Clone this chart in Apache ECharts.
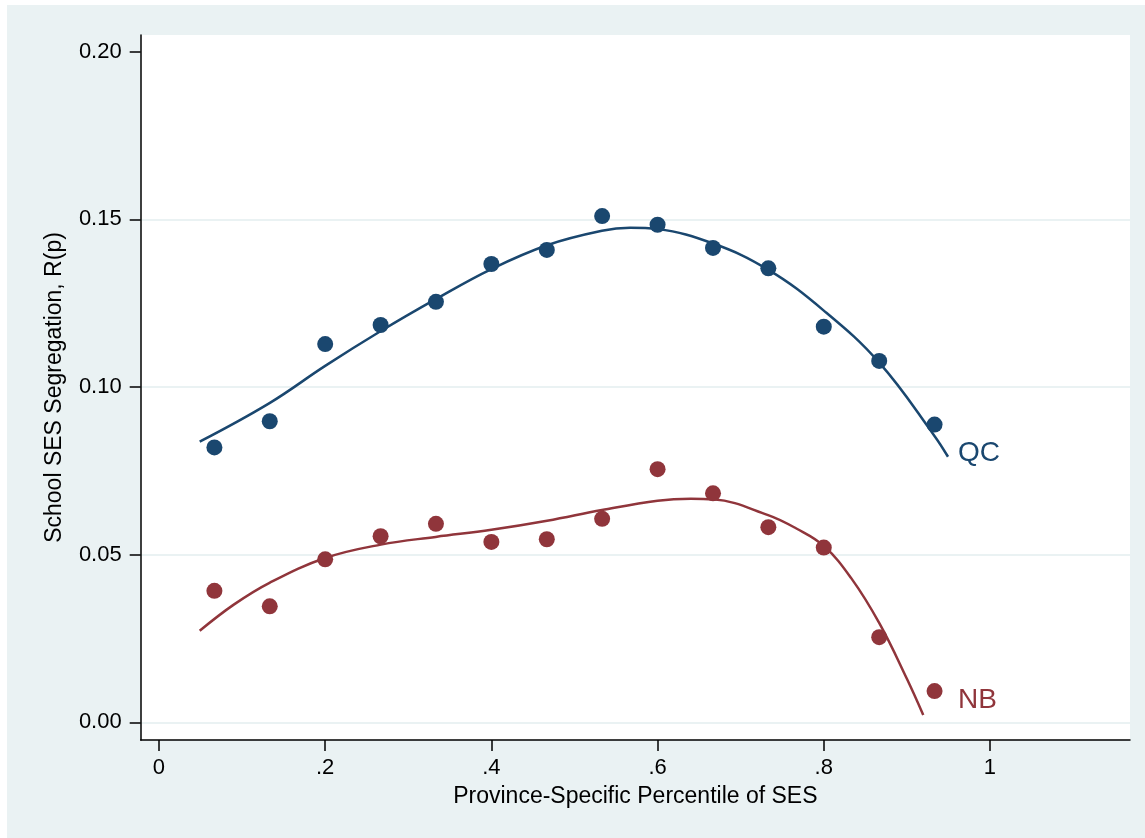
<!DOCTYPE html>
<html>
<head>
<meta charset="utf-8">
<script src="https://cdn.jsdelivr.net/npm/echarts@6/dist/echarts.min.js"></script>
<style>
html,body{margin:0;padding:0;background:#ffffff;width:1145px;height:838px;overflow:hidden;}
#chart{position:absolute;left:7px;top:5px;width:1138px;height:833px;background:#eaf2f3;}
</style>
</head>
<body>
<div id="chart"></div>
<script>
// ---- data ----
const pctX = [0.0667,0.1333,0.2,0.2667,0.3333,0.4,0.4667,0.5333,0.6,0.6667,0.7333,0.8,0.8667,0.9333];
const qcPoints = [0.0820,0.0898,0.1128,0.1185,0.1254,0.1367,0.1409,0.1510,0.1484,0.1415,0.1354,0.1180,0.1078,0.0888];
const nbPoints = [0.0392,0.0346,0.0486,0.0555,0.0592,0.0538,0.0546,0.0607,0.0755,0.0683,0.0582,0.0521,0.0254,0.0093];
const qcFitX = [0.049,0.133,0.2,0.267,0.333,0.4,0.467,0.533,0.567,0.6,0.667,0.733,0.8,0.867,0.933,0.9495];
const qcFitY = [0.0837,0.0952,0.1063,0.1167,0.1262,0.1352,0.1423,0.1466,0.1475,0.1471,0.1428,0.1350,0.1228,0.1072,0.0855,0.0792];
const nbFitX = [0.049,0.09,0.133,0.2,0.267,0.333,0.4,0.467,0.533,0.6,0.64,0.667,0.733,0.767,0.8,0.833,0.867,0.9,0.9197];
const nbFitY = [0.0273,0.0351,0.0416,0.0490,0.0530,0.0553,0.0574,0.0601,0.0633,0.0661,0.0667,0.0665,0.0618,0.0578,0.0526,0.0430,0.0295,0.0130,0.0022];
const seriesNames = ['QC','NB'];
const labelPos = [[0.9615,0.0803],[0.9615,0.0066]];
const xTicks = [0,0.2,0.4,0.6,0.8,1];
const xTickLabels = ['0','.2','.4','.6','.8','1'];
const yTicks = [0,0.05,0.10,0.15,0.20];
const yTickLabels = ['0.00','0.05','0.10','0.15','0.20'];
const yGrid = [0,0.05,0.10,0.15];
const xTitle = 'Province-Specific Percentile of SES';
const yTitle = 'School SES Segregation, R(p)';

const BLUE = '#1a476f', RED = '#90353b', GRID = '#eaf2f3';
const FONT = "'Liberation Sans', Arial, Helvetica, sans-serif";
const zip = (a,b) => a.map((v,i)=>[v,b[i]]);

const chart = echarts.init(document.getElementById('chart'), null, {renderer:'canvas'});
const axisCommon = {
  axisLine:{show:true,onZero:false,lineStyle:{color:'#000',width:1.5}},
  axisTick:{show:true,inside:false,length:11,lineStyle:{color:'#000',width:1.5}},
  splitLine:{show:false}
};
chart.setOption({
  animation:false,
  backgroundColor:'#eaf2f3',
  grid:{left:133.7,right:15,top:30,bottom:98,show:true,backgroundColor:'#ffffff',borderWidth:0},
  xAxis:Object.assign({}, axisCommon, {
    type:'value', min:-0.022, max:1.1685,
    axisTick:Object.assign({}, axisCommon.axisTick, {customValues:xTicks}),
    axisLabel:{customValues:xTicks, margin:17, fontSize:22, color:'#000', fontFamily:FONT,
      formatter:(v)=>{const i=xTicks.findIndex(t=>Math.abs(t-v)<1e-9);return i>=0?xTickLabels[i]:'';}},
    name:xTitle, nameLocation:'middle', nameGap:45,
    nameTextStyle:{fontSize:23,color:'#000',fontFamily:FONT}
  }),
  yAxis:Object.assign({}, axisCommon, {
    type:'value', min:-0.00528, max:0.205,
    axisTick:Object.assign({}, axisCommon.axisTick, {customValues:yTicks}),
    axisLabel:{customValues:yTicks, margin:19, fontSize:22, color:'#000', fontFamily:FONT,
      formatter:(v)=>{const i=yTicks.findIndex(t=>Math.abs(t-v)<1e-9);return i>=0?yTickLabels[i]:'';}},
    name:yTitle, nameLocation:'middle', nameGap:75, nameRotate:90,
    nameTextStyle:{fontSize:23,color:'#000',fontFamily:FONT}
  }),
  series:[
    {type:'line', data:[], z:0, silent:true,
     markLine:{silent:true, z:0, zlevel:0, symbol:'none', label:{show:false}, emphasis:{disabled:true},
       lineStyle:{color:GRID,width:2,type:'solid'},
       data:yGrid.map(v=>({yAxis:v}))}},
    {name:'QC fit', type:'line', data:zip(qcFitX,qcFitY), smooth:0.4, showSymbol:false, z:3,
     lineStyle:{color:BLUE,width:2.5}, itemStyle:{color:BLUE}},
    {name:'NB fit', type:'line', data:zip(nbFitX,nbFitY), smooth:0.4, showSymbol:false, z:3,
     lineStyle:{color:RED,width:2.5}, itemStyle:{color:RED}},
    {name:'QC', type:'scatter', data:zip(pctX,qcPoints), symbol:'circle', symbolSize:16, z:4,
     itemStyle:{color:BLUE,opacity:1}},
    {name:'NB', type:'scatter', data:zip(pctX,nbPoints), symbol:'circle', symbolSize:16, z:4,
     itemStyle:{color:RED,opacity:1}},
    {type:'scatter', symbolSize:0, z:5, silent:true, itemStyle:{opacity:1},
     data:labelPos.map((p,i)=>({value:p,name:seriesNames[i],
       label:{show:true,position:'right',distance:0,formatter:'{b}',fontSize:28,fontFamily:FONT,
         color:i===0?BLUE:RED,opacity:1}}))}
  ]
});
</script>
</body>
</html>
